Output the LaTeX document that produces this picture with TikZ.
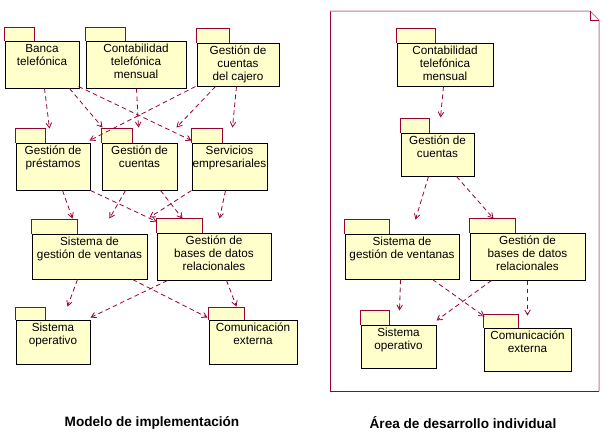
\documentclass[tikz,border=0pt]{standalone}
\usepackage{fontspec}
\setmainfont{Liberation Sans}
\usepackage{tikz}
\usetikzlibrary{arrows,calc}
\definecolor{pkgfill}{HTML}{FFFFCC}
\definecolor{pkgred}{HTML}{990033}
\definecolor{framepink}{HTML}{C07A92}
\newcommand{\pkgfont}{\fontsize{8.8}{9.75}\selectfont}
\tikzstyle{pkg} = [rectangle, draw=black, fill=pkgfill, inner sep=0pt, line width=0.75pt]
\tikzstyle{pkgtxt} = [below, align=center, inner sep=2.6pt, font=\pkgfont]
\tikzstyle{tab} = [draw=pkgred, fill=pkgfill, line width=0.75pt]
\tikzstyle{dep} = [draw=pkgred, dash pattern=on 3.5pt off 2.5pt, line width=0.6pt, -angle 60]
\tikzstyle{title} = [font=\bfseries\fontsize{10.2}{12}\selectfont]
\tikzset{pkgsize/.style 2 args={minimum width=#1*0.75pt, minimum height=#2*0.75pt}}

\begin{document}
\begin{tikzpicture}[x=0.75pt, y=-0.75pt]
  \useasboundingbox (0,0) rectangle (611,444);

  % marco del area individual
  \draw[pkgred, line width=0.75pt] (599,391) -- (330,391) -- (330,11);
  \draw[framepink, line width=0.75pt] (330,11) -- (590,11) -- (599,20) -- (599,391);
  \draw[pkgred, line width=0.75pt] (590,11) -- (590,20) -- (599,20);

  % modelo de implementacion
  \node [pkg, pkgsize={74}{47}, label={[pkgtxt]north:{Banca\\telefónica}}] (banca) at (42,64.5) {};
  \node [pkg, pkgsize={100}{47}, label={[pkgtxt]north:{Contabilidad\\telefónica\\mensual}}] (contab) at (136,64.5) {};
  \node [pkg, pkgsize={82}{43}, label={[pkgtxt]north:{Gestión de\\cuentas\\del cajero}}] (cajero) at (238,64.5) {};
  \node [pkg, pkgsize={74}{47}, label={[pkgtxt]north:{Gestión de\\préstamos}}] (prest) at (53,166.5) {};
  \node [pkg, pkgsize={75}{47}, label={[pkgtxt]north:{Gestión de\\cuentas}}] (cuentas) at (139.5,166.5) {};
  \node [pkg, pkgsize={75}{47}, label={[pkgtxt]north:{Servicios\\empresariales}}] (servicios) at (229.5,166.5) {};
  \node [pkg, pkgsize={115}{45}, label={[pkgtxt]north:{Sistema de\\gestión de ventanas}}] (ventanas) at (89.5,256.5) {};
  \node [pkg, pkgsize={114}{47}, label={[pkgtxt]north:{Gestión de\\bases de datos\\relacionales}}] (bases) at (214,256.5) {};
  \node [pkg, pkgsize={74}{44}, label={[pkgtxt]north:{Sistema\\operativo}}] (operativo) at (53,342) {};
  \node [pkg, pkgsize={88}{44}, label={[pkgtxt]north:{Comunicación\\externa}}] (comext) at (253,342) {};

  % area de desarrollo individual
  \node [pkg, pkgsize={96}{43}, label={[pkgtxt]north:{Contabilidad\\telefónica\\mensual}}] (contabB) at (445,64.5) {};
  \node [pkg, pkgsize={73}{43}, label={[pkgtxt]north:{Gestión de\\cuentas}}] (cuentasB) at (437.5,154.5) {};
  \node [pkg, pkgsize={114}{45}, label={[pkgtxt]north:{Sistema de\\gestión de ventanas}}] (ventanasB) at (402,256.5) {};
  \node [pkg, pkgsize={115}{47}, label={[pkgtxt]north:{Gestión de\\bases de datos\\relacionales}}] (basesB) at (527.5,256.5) {};
  \node [pkg, pkgsize={75}{43}, label={[pkgtxt]north:{Sistema\\operativo}}] (operativoB) at (398.5,346.5) {};
  \node [pkg, pkgsize={87}{43}, label={[pkgtxt]north:{Comunicación\\externa}}] (comextB) at (527.5,349.5) {};

  % pestañas
  \path [tab] (banca.north west) -- ++(0,-13) -- ++(30,0) -- ++(0,13);
  \path [tab] (contab.north west) -- ++(0,-13) -- ++(40,0) -- ++(0,13);
  \path [tab] (cajero.north west) -- ++(0,-14) -- ++(33,0) -- ++(0,14);
  \path [tab] (prest.north west) -- ++(0,-14) -- ++(30,0) -- ++(0,14);
  \path [tab] (cuentas.north west) -- ++(0,-14) -- ++(31,0) -- ++(0,14);
  \path [tab] (servicios.north west) -- ++(0,-14) -- ++(31,0) -- ++(0,14);
  \path [tab] (ventanas.north west) -- ++(0,-14) -- ++(46,0) -- ++(0,14);
  \path [tab] (bases.north west) -- ++(0,-14) -- ++(46,0) -- ++(0,14);
  \path [tab] (operativo.north west) -- ++(0,-12) -- ++(30,0) -- ++(0,12);
  \path [tab] (comext.north west) -- ++(0,-12) -- ++(36,0) -- ++(0,12);
  \path [tab] (contabB.north west) -- ++(0,-14) -- ++(39,0) -- ++(0,14);
  \path [tab] (cuentasB.north west) -- ++(0,-14) -- ++(29,0) -- ++(0,14);
  \path [tab] (ventanasB.north west) -- ++(0,-14) -- ++(45,0) -- ++(0,14);
  \path [tab] (basesB.north west) -- ++(0,-14) -- ++(46,0) -- ++(0,14);
  \path [tab] (operativoB.north west) -- ++(0,-14) -- ++(29,0) -- ++(0,14);
  \path [tab] (comextB.north west) -- ++(0,-13) -- ++(35,0) -- ++(0,13);

  % dependencias
  \path [dep] ($(banca.south west)+(40,0)$) -- ($(prest.north west)+(34,-14)$);
  \path [dep] ($(banca.south west)+(65,0)$) -- ($(cuentas.north west)+(1,-15)$);
  \path [dep] ($(banca.south west)+(74,-2)$) -- ($(servicios.north west)+(0,-2)$);
  \path [dep] ($(contab.south west)+(51,0)$) -- ($(cuentas.north west)+(37,-15)$);
  \path [dep] ($(cajero.south west)+(-1,0)$) -- ($(prest.north west)+(74,-2)$);
  \path [dep] ($(cajero.south west)+(19,0)$) -- ($(cuentas.north west)+(75,-15)$);
  \path [dep] ($(cajero.south west)+(40,0)$) -- ($(servicios.north west)+(41,-15)$);
  \path [dep] ($(prest.south west)+(47,0)$) -- ($(ventanas.north west)+(41,-15)$);
  \path [dep] ($(prest.south west)+(75,0)$) -- ($(bases.north west)+(0,-11)$);
  \path [dep] ($(cuentas.south west)+(24,0)$) -- ($(ventanas.north west)+(78,-15)$);
  \path [dep] ($(cuentas.south west)+(59,0)$) -- ($(bases.north west)+(26,-14)$);
  \path [dep] (servicios.south west) -- ($(bases.north west)+(-7,-15)$);
  \path [dep] ($(servicios.south west)+(34,0)$) -- ($(bases.north west)+(63,-14)$);
  \path [dep] ($(ventanas.south west)+(46,0)$) -- ($(operativo.north west)+(52,-13)$);
  \path [dep] ($(ventanas.south west)+(101,0)$) -- ($(comext.north west)+(-1,-2)$);
  \path [dep] ($(bases.south west)+(11,0)$) -- ($(operativo.north west)+(75,-2)$);
  \path [dep] ($(bases.south west)+(70,0)$) -- ($(comext.north west)+(28,-13)$);

  \path [dep] ($(contabB.south west)+(47,0)$) -- ($(cuentasB.north west)+(40,-15)$);
  \path [dep] ($(cuentasB.south west)+(28,0)$) -- ($(ventanasB.north west)+(71,-14)$);
  \path [dep] ($(cuentasB.south west)+(56,0)$) -- ($(basesB.north west)+(24,-14)$);
  \path [dep] ($(ventanasB.south west)+(56,0)$) -- ($(operativoB.north west)+(39,-14)$);
  \path [dep] ($(ventanasB.south west)+(88,0)$) -- ($(comextB.north west)+(1,-11)$);
  \path [dep] ($(basesB.south west)+(22,0)$) -- ($(operativoB.north west)+(76,-4)$);
  \path [dep] ($(basesB.south west)+(58,0)$) -- ($(comextB.north west)+(44,-12)$);

  % titulos
  \node [title] (tit_impl) at (152,423) {Modelo de implementación};
  \node [title] (tit_area) at (463,423) {Área de desarrollo individual};
\end{tikzpicture}
\end{document}
